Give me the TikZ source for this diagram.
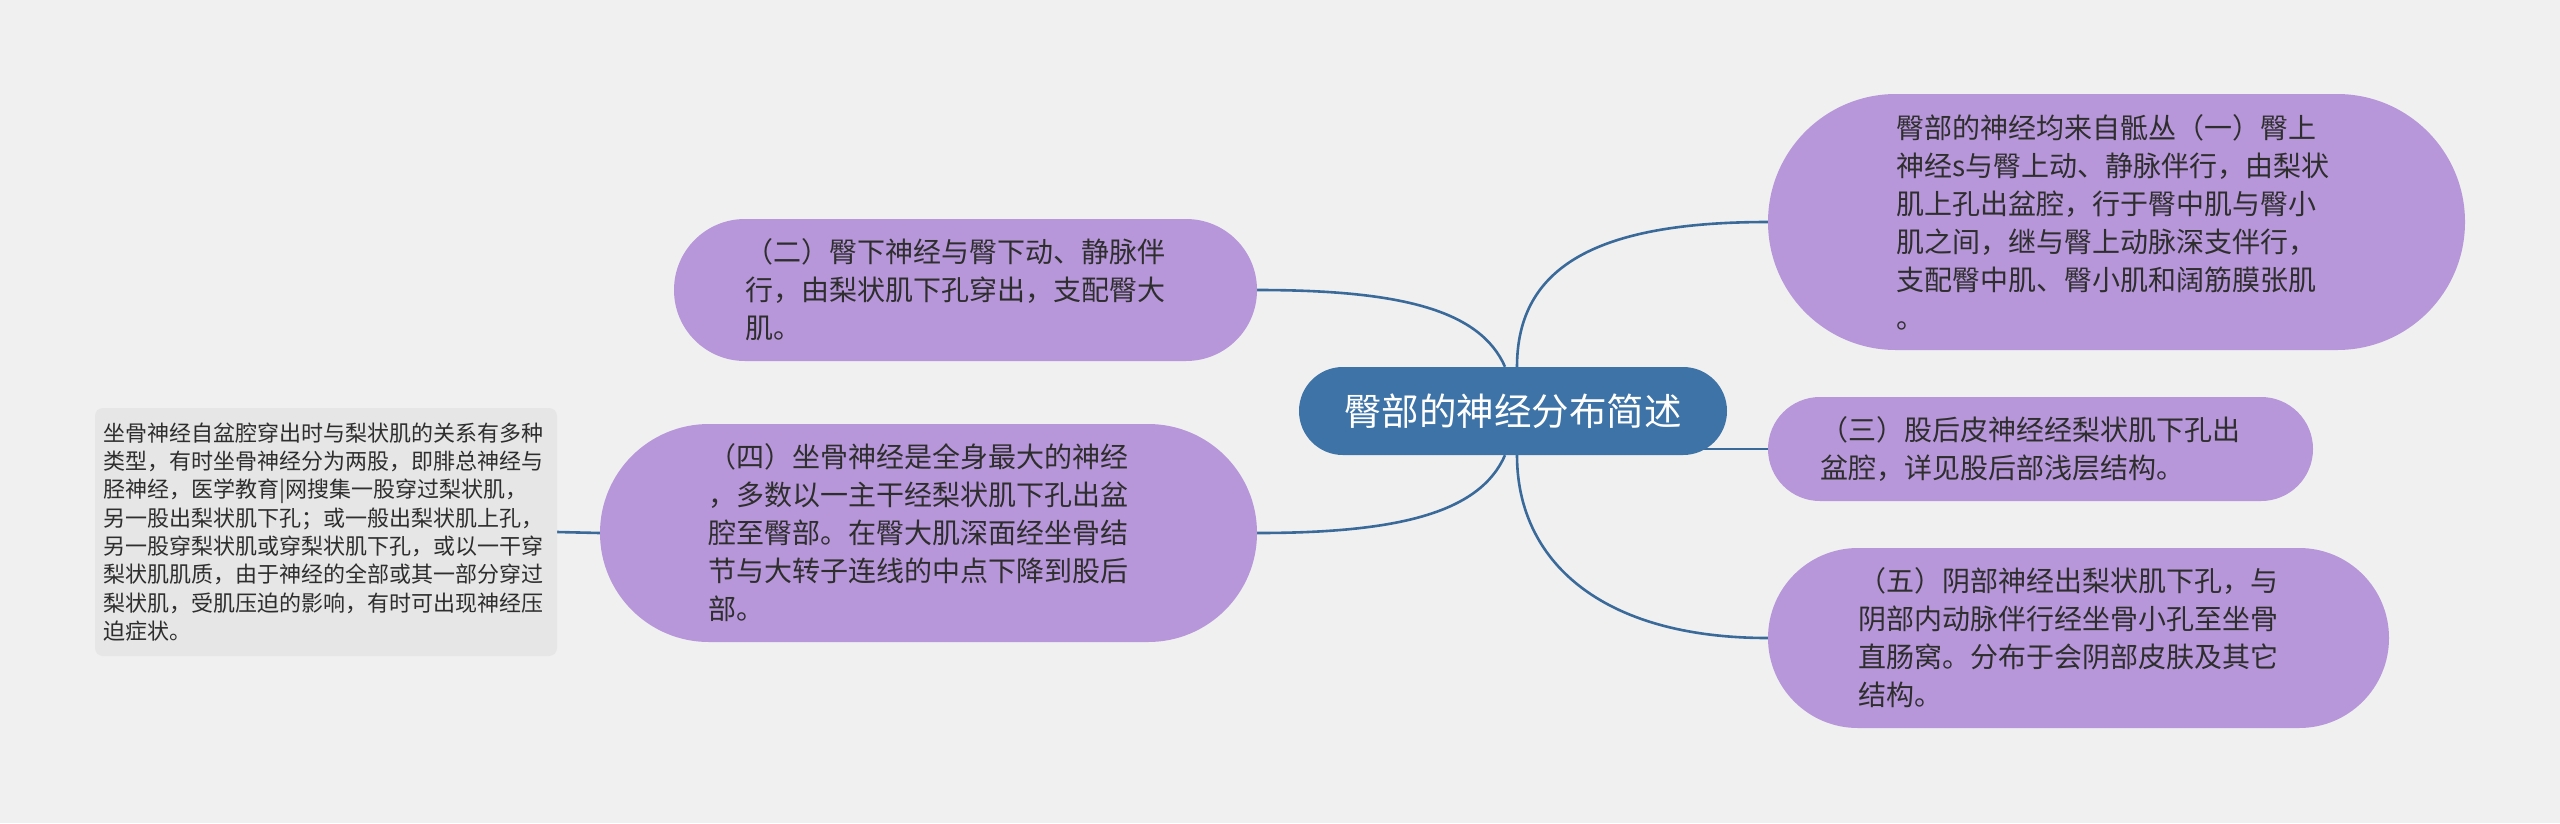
\documentclass[tikz,border=0pt]{standalone}
\usepackage{fontspec}
\newfontfamily\cjk{Noto Sans CJK SC}

\definecolor{bgcol}{HTML}{F0F0F0}
\definecolor{leafcol}{HTML}{B797D9}
\definecolor{rootcol}{HTML}{3D73A6}
\definecolor{linkcol}{HTML}{3A6A99}
\definecolor{notecol}{HTML}{E6E6E6}
\definecolor{inkcol}{HTML}{2E2E2E}

\pgfdeclarelayer{bg}
\pgfsetlayers{bg,main}

\begin{document}
\begin{tikzpicture}[x=1pt, y=-1pt,
    leafbox/.style={fill=leafcol, text=inkcol, inner sep=0pt, align=left,
        text width=440pt, font={\cjk\fontsize{28}{38}\selectfont}},
    rootbox/.style={fill=rootcol, text=white, inner sep=0pt,
        minimum width=428pt, minimum height=88pt, rounded corners=43.9pt,
        font={\cjk\fontsize{37.5}{45}\selectfont}},
    notebox/.style={fill=notecol, text=inkcol, inner sep=0pt, align=left,
        text width=445pt, minimum width=462pt, minimum height=248pt,
        rounded corners=8pt, font={\cjk\fontsize{22}{28.3}\selectfont}},
    link/.style={draw=linkcol, line width=2.6pt}]

    \useasboundingbox (0,0) rectangle (2560,823);

    \node[rootbox] (root) at (1513,411) {臀部的神经分布简述};

    \node[leafbox, minimum width=697pt, minimum height=256pt, rounded corners=127.9pt]
        (n1) at (2116.5,222) {臀部的神经均来自骶丛（一）臀上\\神经s与臀上动、静脉伴行，由梨状\\肌上孔出盆腔，行于臀中肌与臀小\\肌之间，继与臀上动脉深支伴行，\\支配臀中肌、臀小肌和阔筋膜张肌\\。};
    \node[leafbox, minimum width=583pt, minimum height=142pt, rounded corners=70.9pt]
        (n2) at (965.5,290) {（二）臀下神经与臀下动、静脉伴\\行，由梨状肌下孔穿出，支配臀大\\肌。};
    \node[leafbox, minimum width=545pt, minimum height=104pt, rounded corners=51.9pt]
        (n3) at (2040.5,449) {（三）股后皮神经经梨状肌下孔出\\盆腔，详见股后部浅层结构。};
    \node[leafbox, minimum width=657pt, minimum height=218pt, rounded corners=108.9pt]
        (n4) at (928.5,533) {（四）坐骨神经是全身最大的神经\\，多数以一主干经梨状肌下孔出盆\\腔至臀部。在臀大肌深面经坐骨结\\节与大转子连线的中点下降到股后\\部。};
    \node[leafbox, minimum width=621pt, minimum height=180pt, rounded corners=89.9pt]
        (n5) at (2078.5,638) {（五）阴部神经出梨状肌下孔，与\\阴部内动脉伴行经坐骨小孔至坐骨\\直肠窝。分布于会阴部皮肤及其它\\结构。};

    \node[notebox] (note) at (326,532) {坐骨神经自盆腔穿出时与梨状肌的关系有多种\\类型，有时坐骨神经分为两股，即腓总神经与\\胫神经，医学教育|网搜集一股穿过梨状肌，\\另一股出梨状肌下孔；或一般出梨状肌上孔，\\另一股穿梨状肌或穿梨状肌下孔，或以一干穿\\梨状肌肌质，由于神经的全部或其一部分穿过\\梨状肌，受肌压迫的影响，有时可出现神经压\\迫症状。};

    \begin{pgfonlayer}{bg}
    \fill[bgcol] (0,0) rectangle (2560,823);
    \draw[link] ([xshift=-8pt]root.north) .. controls +(-25,-57) and +(143,0) .. (n2.east);
    \draw[link] ([xshift=-8pt]root.south) .. controls +(-25,57) and +(143,0) .. (n4.east);
    \draw[link] ([xshift=4pt]root.north) .. controls +(0,-102) and +(-168,0) .. (n1.west);
    \draw[link] ([xshift=4pt]root.south) .. controls +(0,105) and +(-168,0) .. (n5.west);
    \draw[link] (root.center |- n3.west) -- (n3.west);
    \draw[link] (note.east) -- (n4.west);
    \end{pgfonlayer}
\end{tikzpicture}
\end{document}
